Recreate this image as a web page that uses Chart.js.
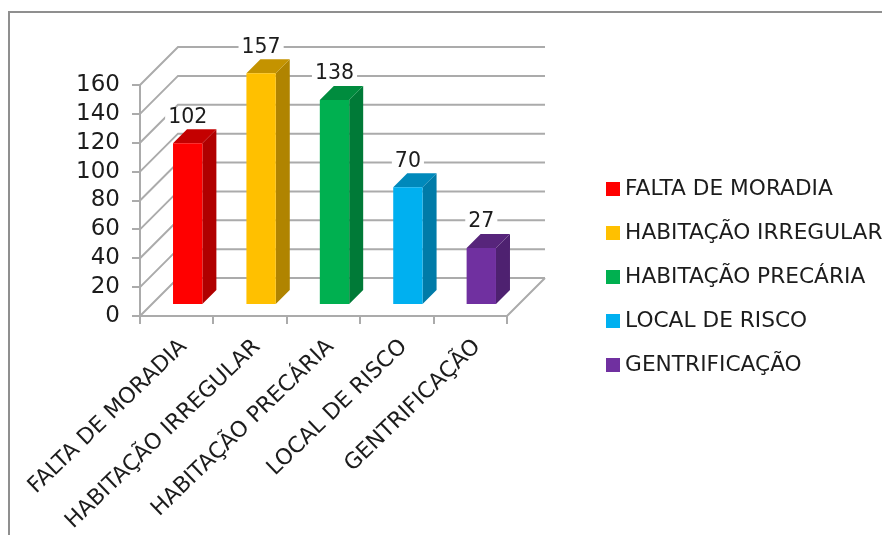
<!DOCTYPE html>
<html>
<head>
<meta charset="utf-8">
<style>
  html, body { margin: 0; padding: 0; background: #fff; overflow: hidden; }
  #wrap { position: relative; width: 882px; height: 535px; filter: blur(0.5px); }
  #frame { position: absolute; left: 8px; top: 11px; right: 0; bottom: 0; border-left: 2px solid #8f8f8f; border-top: 2px solid #8f8f8f; }
  canvas { position: absolute; left: 0; top: 0; }
</style>
<script src="https://cdn.jsdelivr.net/npm/chart.js@4/dist/chart.umd.min.js"></script>
</head>
<body>
<div id="wrap">
  <div id="frame"></div>
  <canvas id="chart" width="882" height="535"></canvas>
</div>
<script>
var categories = ["FALTA DE MORADIA", "HABITAÇÃO IRREGULAR", "HABITAÇÃO PRECÁRIA", "LOCAL DE RISCO", "GENTRIFICAÇÃO"];
// height of the bars as drawn against the axis, the printed numbers differ
var barHeights = [112, 160.5, 142, 81.5, 39.5];
var printedValues = [102, 157, 138, 70, 27];
var frontColors = ["#ff0000", "#ffc000", "#00b050", "#00b0f0", "#7030a0"];
var sideColors = ["#b00000", "#b08400", "#007a37", "#007ba8", "#4e2170"];
var topColors = ["#c40000", "#c49300", "#008c3e", "#0089bb", "#57257b"];
var yTicks = [0, 20, 40, 60, 80, 100, 120, 140, 160];

var FONT = "'DejaVu Sans'";
var TEXT = "#1c1c1c";
var GRID = "#ababab";
var WALL = 38;      // depth of the floor and side wall
var BAR_SHIFT = 11; // bars stand this far into the floor
var BAR_DEPTH = 14;

function legendSwatch(color) {
  var c = document.createElement("canvas");
  c.width = 14;
  c.height = 14;
  var g = c.getContext("2d");
  g.fillStyle = color;
  g.fillRect(0, 0, 14, 14);
  return c;
}

var box3d = {
  id: "box3d",
  afterLayout: function (chart) {
    var legend = chart.legend;
    legend.left = 611.75 - legend.options.labels.padding;
    legend.right = 882;
    legend.top = 156;
    legend.bottom = 535;
  },
  beforeDatasetsDraw: function (chart) {
    var ctx = chart.ctx, area = chart.chartArea, y = chart.scales.y;
    ctx.save();
    ctx.strokeStyle = GRID;
    ctx.lineWidth = 2;
    ctx.beginPath();
    yTicks.forEach(function (t) {
      var py = y.getPixelForValue(t);
      ctx.moveTo(area.left, py);
      ctx.lineTo(area.left + WALL, py - WALL);
      ctx.lineTo(area.right + WALL, py - WALL);
    });
    ctx.moveTo(area.right, area.bottom);
    ctx.lineTo(area.right + WALL, area.bottom - WALL);
    ctx.stroke();

    chart.getDatasetMeta(0).data.forEach(function (bar, i) {
      var l = bar.x - bar.width / 2 + BAR_SHIFT;
      var r = bar.x + bar.width / 2 + BAR_SHIFT;
      var t = bar.y - BAR_SHIFT;
      var b = bar.base - BAR_SHIFT;
      ctx.fillStyle = sideColors[i];
      ctx.beginPath();
      ctx.moveTo(r, t);
      ctx.lineTo(r + BAR_DEPTH, t - BAR_DEPTH);
      ctx.lineTo(r + BAR_DEPTH, b - BAR_DEPTH);
      ctx.lineTo(r, b);
      ctx.closePath();
      ctx.fill();
      ctx.fillStyle = topColors[i];
      ctx.beginPath();
      ctx.moveTo(l, t);
      ctx.lineTo(l + BAR_DEPTH, t - BAR_DEPTH);
      ctx.lineTo(r + BAR_DEPTH, t - BAR_DEPTH);
      ctx.lineTo(r, t);
      ctx.closePath();
      ctx.fill();
    });
    ctx.restore();
  },
  beforeDatasetDraw: function (chart) {
    chart.ctx.save();
    chart.ctx.translate(BAR_SHIFT, -BAR_SHIFT);
  },
  afterDatasetDraw: function (chart) {
    chart.ctx.restore();
  },
  afterDatasetsDraw: function (chart) {
    var ctx = chart.ctx;
    ctx.save();
    ctx.font = "20.5px " + FONT;
    ctx.textAlign = "center";
    ctx.textBaseline = "middle";
    chart.getDatasetMeta(0).data.forEach(function (bar, i) {
      var x = bar.x + BAR_SHIFT;
      var py = bar.y - BAR_SHIFT - 26;
      var text = String(printedValues[i]);
      var w = ctx.measureText(text).width + 6;
      ctx.fillStyle = "#fff";
      ctx.fillRect(x - w / 2, py - 9, w, 18);
      ctx.fillStyle = TEXT;
      ctx.fillText(text, x, py);
    });
    ctx.restore();
  }
};

new Chart(document.getElementById("chart"), {
  type: "bar",
  data: {
    labels: categories,
    datasets: [{
      data: barHeights,
      backgroundColor: frontColors,
      barPercentage: 0.5,
      categoryPercentage: 0.8,
      clip: false
    }]
  },
  plugins: [box3d],
  options: {
    responsive: false,
    animation: false,
    events: [],
    layout: { padding: { top: 85, right: 206, left: 0, bottom: 0 } },
    plugins: {
      tooltip: { enabled: false },
      legend: {
        position: "right",
        align: "start",
        labels: {
          color: TEXT,
          font: { family: FONT, size: 21.7 },
          usePointStyle: true,
          pointStyleWidth: 2.5,
          boxHeight: 14,
          padding: 22.3,
          generateLabels: function () {
            return categories.map(function (name, i) {
              return { text: name, pointStyle: legendSwatch(frontColors[i]), fontColor: TEXT, index: i };
            });
          }
        }
      }
    },
    scales: {
      x: {
        afterFit: function (scale) { scale.height = 219; },
        border: { color: GRID, width: 2 },
        grid: { drawOnChartArea: false, color: GRID, lineWidth: 2, tickLength: 8 },
        ticks: {
          color: TEXT,
          font: { family: FONT, size: 22 },
          minRotation: 44,
          maxRotation: 44,
          autoSkip: false,
          labelOffset: 7,
          padding: 10
        }
      },
      y: {
        min: 0,
        max: 160,
        afterFit: function (scale) { scale.width = 140; },
        border: { color: GRID, width: 2 },
        grid: { drawOnChartArea: false, color: GRID, lineWidth: 2, tickLength: 8 },
        afterBuildTicks: function (scale) {
          scale.ticks = yTicks.map(function (v) { return { value: v }; });
        },
        ticks: {
          color: TEXT,
          font: { family: FONT, size: 23 },
          autoSkip: false,
          padding: 12
        }
      }
    }
  }
});
</script>
</body>
</html>
